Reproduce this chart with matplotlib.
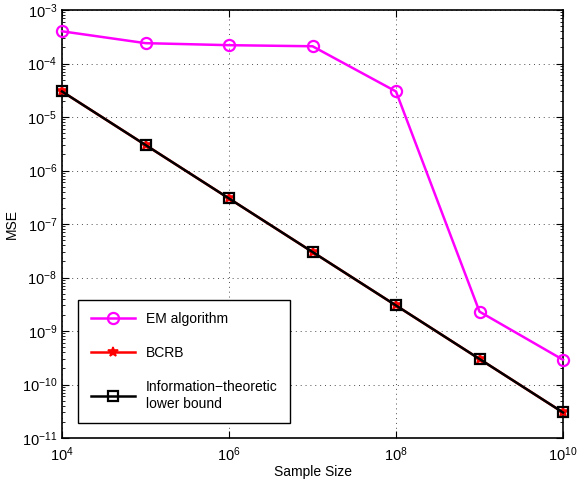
import numpy as np
import matplotlib
matplotlib.use("Agg")
import matplotlib.pyplot as plt
from matplotlib.ticker import LogLocator, NullFormatter, FixedLocator, FuncFormatter

plt.rcParams['font.family'] = ['Liberation Sans', 'DejaVu Sans']
plt.rcParams['mathtext.fontset'] = 'custom'
plt.rcParams['mathtext.rm'] = 'Liberation Sans'
plt.rcParams['mathtext.it'] = 'Liberation Sans:italic'
plt.rcParams['mathtext.default'] = 'regular'

sample_size = [1e4, 1e5, 1e6, 1e7, 1e8, 1e9, 1e10]
em_mse = [4.0e-4, 2.4e-4, 2.2e-4, 2.1e-4, 3.0e-5, 2.3e-9, 2.9e-10]
bcrb_mse = [3e-5, 3e-6, 3e-7, 3e-8, 3e-9, 3e-10, 3e-11]
info_mse = [3e-5, 3e-6, 3e-7, 3e-8, 3e-9, 3e-10, 3e-11]
x_ticks = [1e4, 1e6, 1e8, 1e10]

fig = plt.figure(figsize=(5.77, 4.82), dpi=100)
ax = fig.add_axes([62 / 577, 1 - 438 / 482, (563 - 62) / 577, (438 - 10) / 482])

ax.loglog(sample_size, em_mse, color='magenta', lw=1.8, marker='o', ms=8,
          mfc='none', mew=1.6, label='EM algorithm', clip_on=False, zorder=3)
ax.loglog(sample_size, bcrb_mse, color='red', lw=1.8, marker='*', ms=7,
          mew=1.2, label='BCRB', clip_on=False, zorder=3)
ax.loglog(sample_size, info_mse, color='black', lw=1.8, marker='s', ms=7,
          mfc='none', mew=1.6, label='Information\u2212theoretic\nlower bound',
          clip_on=False, zorder=4)

ax.set_xlim(1e4, 1e10)
ax.set_ylim(1e-11, 1e-3)
ax.set_xlabel('Sample Size', fontsize=10, labelpad=1)
ax.set_ylabel('MSE', fontsize=10, labelpad=2)

ax.xaxis.set_major_locator(FixedLocator(x_ticks))
ax.xaxis.set_major_formatter(FuncFormatter(lambda v, p: r'$10^{%d}$' % round(np.log10(v))))
ax.xaxis.set_minor_locator(FixedLocator([]))
ax.yaxis.set_major_locator(LogLocator(base=10, numticks=20))
ax.yaxis.set_major_formatter(FuncFormatter(lambda v, p: r'$10^{%d}$' % round(np.log10(v))))
ax.yaxis.set_minor_locator(LogLocator(base=10, subs=np.arange(2, 10), numticks=20))
ax.yaxis.set_minor_formatter(NullFormatter())

ax.tick_params(which='both', direction='in', top=True, right=True, labelsize=10.5)
ax.tick_params(which='major', length=5)
ax.tick_params(which='minor', length=2.5)
ax.tick_params(axis='x', pad=5)
ax.grid(True, which='major', ls=(0, (1, 4)), color='0.3', lw=0.7)
for s in ax.spines.values():
    s.set_linewidth(1.2)

leg = ax.legend(loc='lower left', bbox_to_anchor=(16 / 501, 15 / 428), fontsize=10,
                fancybox=False, edgecolor='black', handlelength=3.2,
                labelspacing=1.45, borderpad=0.9, borderaxespad=0, framealpha=1)
leg.get_frame().set_linewidth(1.0)

fig.savefig('out.png', dpi=100)
